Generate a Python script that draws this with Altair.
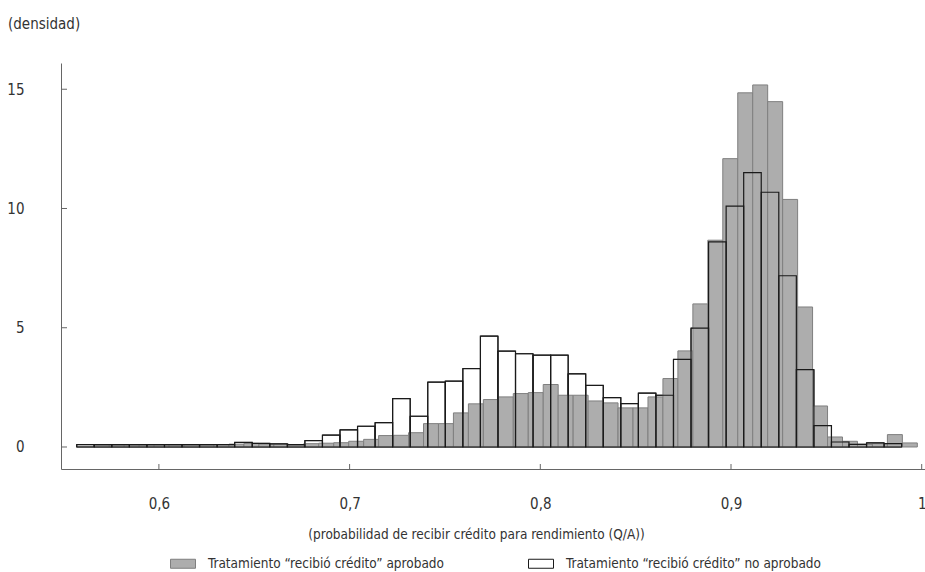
import altair as alt
import pandas as pd

FONT = "Liberation Sans Narrow, DejaVu Sans Condensed, Arial Narrow, sans-serif"

# ---- data ----
series_names = [
    "Tratamiento \u201crecibi\u00f3 cr\u00e9dito\u201d aprobado",
    "Tratamiento \u201crecibi\u00f3 cr\u00e9dito\u201d no aprobado",
]

# histogram bins: first edge and bin width (x units)
gray_start = 0.56612
gray_width = 0.007847
white_start = 0.5569
white_width = 0.009204

# density per bin, "aprobado" (grey bars)
gray_density = [
    0.08, 0.08, 0.08, 0.08, 0.08, 0.08, 0.08, 0.08, 0.10, 0.12,
    0.15, 0.12, 0.12, 0.08, 0.14, 0.16, 0.18, 0.24, 0.32, 0.48,
    0.49, 0.60, 0.98, 0.98, 1.43, 1.81, 1.99, 2.10, 2.24, 2.28,
    2.62, 2.17, 2.17, 1.93, 1.85, 1.64, 1.64, 2.10, 2.87, 4.03,
    6.00, 8.67, 12.09, 14.85, 15.18, 14.48, 10.38, 5.87, 1.72, 0.42,
    0.24, 0.11, 0.14, 0.52, 0.17,
]

# density per bin, "no aprobado" (white bars)
white_density = [
    0.10, 0.10, 0.10, 0.10, 0.10, 0.10, 0.10, 0.10, 0.10, 0.19,
    0.15, 0.13, 0.10, 0.27, 0.50, 0.72, 0.87, 1.02, 2.03, 1.29,
    2.72, 2.76, 3.29, 4.65, 4.02, 3.91, 3.85, 3.85, 3.07, 2.58,
    2.07, 1.82, 2.26, 2.17, 3.67, 4.98, 8.60, 10.10, 11.50, 10.68,
    7.18, 3.24, 0.90, 0.21, 0.11, 0.17, 0.14,
]

x_ticks = [0.6, 0.7, 0.8, 0.9, 1.0]
y_ticks = [0, 5, 10, 15]

x_title = "(probabilidad de recibir cr\u00e9dito para rendimiento (Q/A))"
y_title = "(densidad)"


def hist_frame(start, width, dens, name):
    n = len(dens)
    return pd.DataFrame({
        "x0": [start + i * width for i in range(n)],
        "x1": [start + (i + 1) * width for i in range(n)],
        "d": dens,
        "serie": [name] * n,
    })


gray_df = hist_frame(gray_start, gray_width, gray_density, series_names[0])
white_df = hist_frame(white_start, white_width, white_density, series_names[1])

W, H = 864, 406

x_scale = alt.Scale(domain=[0.54866, 1.00173], nice=False, zero=False)
y_scale = alt.Scale(domain=[-0.9224, 16.10], nice=False, zero=False)

AXIS_COL = "#666666"
TXT = "#333333"
LBL = 15
SMALL = 13.5

x_axis = alt.Axis(
    values=x_ticks,
    labelExpr="replace(format(datum.value, '.1~f'), '.', ',')",
    ticks=False, tickSize=0, grid=False,
    domainColor=AXIS_COL, domainWidth=1,
    labelFont=FONT, labelFontSize=LBL, labelColor=TXT,
    labelPadding=39, labelBaseline="alphabetic",
    labelFlush=False, labelOverlap=False,
    title=x_title, titleFont=FONT, titleFontSize=SMALL, titleFontWeight="normal",
    titleColor=TXT, titleX=415, titleY=69.5, titleAlign="center",
    titleBaseline="alphabetic",
)

y_axis = alt.Axis(
    values=y_ticks,
    ticks=False, tickSize=0, grid=False,
    domainColor=AXIS_COL, domainWidth=1,
    labelFont=FONT, labelFontSize=LBL, labelColor=TXT,
    labelPadding=37, labelOverlap=False,
    title=y_title, titleFont=FONT, titleFontSize=LBL, titleFontWeight="normal",
    titleColor=TXT, titleAngle=0, titleAlign="left", titleBaseline="alphabetic",
    titleX=-53.5, titleY=-35,
)

legend = alt.Legend(
    orient="none", legendX=109, legendY=487.5,
    direction="horizontal", columns=2, title=None, padding=0,
    symbolType="M-1,-0.36H1V0.36H-1Z", symbolSize=625, symbolStrokeWidth=1,
    labelFont=FONT, labelFontSize=SMALL, labelColor=TXT,
    labelOffset=12, columnPadding=82, labelLimit=500,
)

fill_enc = alt.Fill(
    "serie:N",
    scale=alt.Scale(domain=series_names, range=["#adadad", "#ffffff"]),
    legend=legend,
)
stroke_enc = alt.Stroke(
    "serie:N",
    scale=alt.Scale(domain=series_names, range=["#7f7f7f", "#1a1a1a"]),
    legend=legend,
)

X = lambda f: alt.X(f, scale=x_scale, axis=x_axis)
Y = lambda f: alt.Y(f, scale=y_scale, axis=y_axis)

# white bars (base, opaque)
white_base = alt.Chart(white_df).mark_rect(strokeWidth=1).encode(
    x=X("x0:Q"), x2="x1:Q", y=Y("d:Q"), y2=alt.datum(0),
    fill=fill_enc, stroke=stroke_enc,
)

# grey bars
gray_bars = alt.Chart(gray_df).mark_rect(strokeWidth=1).encode(
    x=X("x0:Q"), x2="x1:Q", y=Y("d:Q"), y2=alt.datum(0),
    fill=fill_enc, stroke=stroke_enc,
)

# white-bar outlines drawn on top
white_outline = alt.Chart(white_df).mark_rect(
    fillOpacity=0, strokeWidth=1.2
).encode(
    x=X("x0:Q"), x2="x1:Q", y=Y("d:Q"), y2=alt.datum(0),
    fill=alt.value("#ffffff"),
    stroke=alt.value("#1a1a1a"),
)

# inward tick marks
x_tick_marks = alt.Chart(pd.DataFrame({"v": x_ticks})).mark_rule(
    color=AXIS_COL, strokeWidth=1
).encode(
    x=X("v:Q"),
    y=alt.value(H - 5),
    y2=alt.value(H),
)
y_tick_marks = alt.Chart(pd.DataFrame({"v": y_ticks})).mark_rule(
    color=AXIS_COL, strokeWidth=1
).encode(
    y=Y("v:Q"),
    x=alt.value(0),
    x2=alt.value(6),
)

chart = alt.layer(
    white_base, gray_bars, white_outline, x_tick_marks, y_tick_marks
).properties(
    width=W, height=H,
    padding={"left": 61, "top": 63, "right": 0, "bottom": 103},
    autosize=alt.AutoSizeParams(type="none"),
).configure_view(stroke="transparent")

chart.save("out.html", embed_options={"renderer": "svg", "actions": False})
